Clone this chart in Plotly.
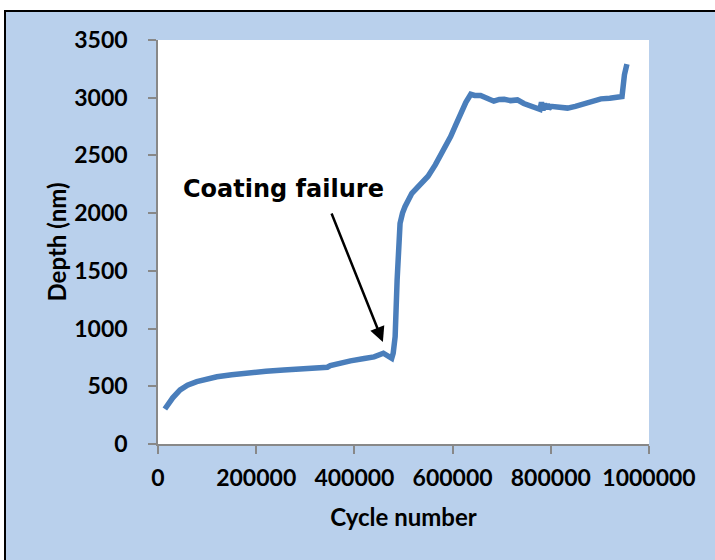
import plotly.graph_objects as go

cycles = [14000, 30000, 45000, 60000, 79000, 100000, 120000, 150000, 188000, 220000,
          256000, 300000, 337000, 345000, 351000, 370000, 392000, 420000, 440000, 459000,
          467000, 476000, 479000, 483000, 487000, 489500, 493000, 498000, 503000, 517000,
          535000, 550000, 565000, 580000, 596000, 606000, 616000, 627000, 637000, 645000,
          657000, 670000, 684000, 695000, 705000, 718000, 732000, 745000, 759000, 770000,
          778000, 781000, 784000, 787000, 790000, 793000, 796000, 800000, 815000, 834000,
          850000, 868000, 885000, 902000, 920000, 939000, 945000, 950000, 955000]
depth = [303, 400, 468, 510, 540, 562, 583, 600, 621, 630,
         641, 648, 656, 665, 679, 700, 720, 740, 755, 786,
         770, 742, 786, 930, 1421, 1709, 1912, 2000, 2056, 2172,
         2259, 2320, 2420, 2530, 2663, 2760, 2866, 2960, 3030, 3020,
         3020, 2990, 2970, 2985, 2986, 2975, 2981, 2950, 2925, 2910,
         2900, 2960, 2890, 2950, 2900, 2945, 2905, 2925, 2915, 2910,
         2925, 2950, 2975, 2990, 2995, 3000, 3010, 3200, 3290]

x_ticks = [0, 200000, 400000, 600000, 800000, 1000000]
y_ticks = [0, 500, 1000, 1500, 2000, 2500, 3000, 3500]

W, H = 715, 560
L, R, T, B = 158, 66, 40, 116
pw, ph = W - L - R, H - T - B

def px2x(px):
    return (px - L) / pw

def py2y(py):
    return (H - B - py) / ph

fig = go.Figure()
fig.add_trace(go.Scatter(x=cycles, y=depth, mode="lines",
                         line=dict(color="#4A7EBB", width=5.5), showlegend=False))

tick_font = dict(family="Lato", size=23, color="black", weight="bold")
title_font = dict(family="Lato", size=24, color="black", weight="bold")
fig.update_xaxes(range=[0, 1000000], tickvals=x_ticks, ticktext=[str(v) for v in x_ticks],
                 showgrid=False, zeroline=False, showline=True, linecolor="#888888", linewidth=1.5,
                 ticks="outside", ticklen=8, tickcolor="#888888", tickwidth=1.5,
                 tickfont=tick_font, ticklabelstandoff=5,
                 title=dict(text="Cycle number", font=title_font, standoff=19))
fig.update_yaxes(range=[0, 3500], tickvals=y_ticks, ticktext=[str(v) for v in y_ticks],
                 showgrid=False, zeroline=False, showline=True, linecolor="#888888", linewidth=1.5,
                 ticks="outside", ticklen=8, tickcolor="#888888", tickwidth=1.5, ticklabelstandoff=16,
                 tickfont=tick_font,
                 title=dict(text="Depth (nm)", font=title_font, standoff=1))

fig.add_shape(type="rect", xref="paper", yref="paper", layer="below",
              x0=px2x(5), y0=py2y(600), x1=px2x(760), y1=py2y(11),
              fillcolor="#B9D0EC", line=dict(color="black", width=2))
fig.add_shape(type="rect", xref="paper", yref="paper", layer="below",
              x0=0, y0=0, x1=1, y1=1, fillcolor="white", line=dict(width=0))

fig.add_annotation(x=254600, y=2209, text="<b>Coating failure</b>", showarrow=False,
                   font=dict(family="DejaVu Sans", size=24, color="black"))
fig.add_annotation(x=458000, y=884, ax=352300, ay=2010, axref="x", ayref="y", text="",
                   showarrow=True, arrowhead=2, arrowsize=1.2, arrowwidth=2.5, arrowcolor="black")

fig.update_layout(width=W, height=H, margin=dict(l=L, r=R, t=T, b=B),
                  paper_bgcolor="white", plot_bgcolor="white")
fig.write_html("out.html", config={"displayModeBar": False},
               post_script="document.body.style.margin='0';document.body.style.overflow='hidden';")
